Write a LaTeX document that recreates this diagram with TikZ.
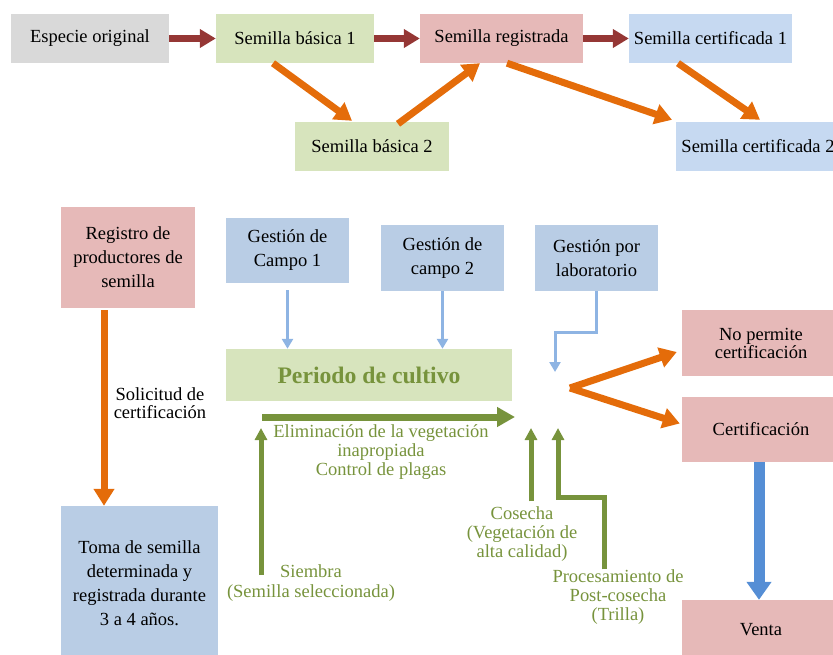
\documentclass[tikz,border=0pt]{standalone}
\usepackage{fontspec}
\setmainfont{Liberation Serif}
\usepackage{tikz}
\usetikzlibrary{arrows.meta}
\definecolor{gris}{HTML}{D9D9D9}
\definecolor{verdec}{HTML}{D7E4BD}
\definecolor{rosa}{HTML}{E6B9B8}
\definecolor{celc}{HTML}{C6D9F1}
\definecolor{azulc}{HTML}{B9CDE5}
\definecolor{rojo}{HTML}{953735}
\definecolor{naranja}{HTML}{E46C0A}
\definecolor{verdeosc}{HTML}{77933C}
\definecolor{celeste}{HTML}{8EB4E3}
\definecolor{azul}{HTML}{558ED5}
\newcommand{\txt}{\fontsize{18.5}{24}\selectfont}
\newcommand{\etq}{\fontsize{18.5}{19}\selectfont}

\begin{document}
\begin{tikzpicture}[x=1pt,y=-1pt,
  caja/.style={inner sep=0pt,align=center,font=\txt},
  etiq/.style={inner sep=0pt,align=center,font=\etq,text=verdeosc},
  flroja/.style={draw=rojo,line width=7pt,-{Triangle[width=18pt,length=16pt]}},
  flnar/.style={draw=naranja,line width=7pt,-{Triangle[width=20pt,length=17pt]}},
  flver/.style={draw=verdeosc,line width=7pt,-{Triangle[width=19pt,length=18pt]}},
  flverd/.style={draw=verdeosc,line width=5pt,-{Triangle[width=12pt,length=12pt]}},
  flcel/.style={draw=celeste,line width=3pt,-{Triangle[width=11pt,length=10pt]}},
  flazul/.style={draw=azul,line width=11pt,-{Triangle[width=24pt,length=18pt]}}]
\useasboundingbox (0,0) rectangle (833,655);
%\draw[help lines, color=gray!30, dashed] (0,0) grid[step=50] (833,655);
% fila de arriba
\node[caja,fill=gris,minimum width=158pt,minimum height=49pt] (espe) at (90,38.5) {Especie original};
\node[caja,fill=verdec,minimum width=158pt,minimum height=49pt] (bas1) at (295,38.5) {Semilla básica 1};
\node[caja,fill=rosa,minimum width=163pt,minimum height=49pt] (reg) at (501.5,38.5) {Semilla registrada};
\node[caja,fill=celc,minimum width=163pt,minimum height=49pt] (cert1) at (710.5,38.5) {Semilla certificada 1};
\node[caja,fill=verdec,minimum width=154pt,minimum height=49pt] (bas2) at (372,146.5) {Semilla básica 2};
\node[caja,fill=celc,minimum width=164pt,minimum height=49pt] (cert2) at (758,146.5) {Semilla certificada 2};
\draw[flroja] (espe) -- (bas1);
\draw[flroja] (bas1) -- (reg);
\draw[flroja] (reg) -- (cert1);
\draw[flnar] ([xshift=-22pt]bas1.south) -- ([xshift=-20pt,yshift=1pt]bas2.north);
\draw[flnar] ([xshift=26pt,yshift=-2pt]bas2.north) -- ([xshift=-21.5pt]reg.south);
\draw[flnar] ([xshift=5.5pt]reg.south) -- ([xshift=-86pt,yshift=2pt]cert2.north);
\draw[flnar] ([xshift=-32.5pt]cert1.south) -- ([xshift=2pt,yshift=2pt]cert2.north);
% parte de abajo
\node[caja,fill=rosa,minimum width=134pt,minimum height=101pt] (registro) at (128,257.5) {Registro de\\productores de\\semilla};
\node[caja,fill=azulc,minimum width=157pt,minimum height=154pt] (toma) at (139.5,583) {Toma de semilla\\determinada y\\registrada durante\\3 a 4 años.};
\node[caja,font=\fontsize{18.5}{18}\selectfont] (solic) at (160,403) {Solicitud de\\certificación};
\draw[flnar] ([xshift=-24pt,yshift=-2pt]registro.south) -- ([xshift=-35.5pt]toma.north);
\node[caja,fill=azulc,minimum width=123pt,minimum height=65pt] (campo1) at (287.5,250.5) {Gestión de\\Campo 1};
\node[caja,fill=azulc,minimum width=123pt,minimum height=66pt] (campo2) at (442.5,258) {Gestión de\\campo 2};
\node[caja,fill=azulc,minimum width=123pt,minimum height=66pt] (lab) at (596.5,258) {Gestión por\\laboratorio};
\node[caja,fill=verdec,minimum width=286pt,minimum height=52pt,text=verdeosc,font=\fontsize{23.7}{28}\selectfont\bfseries] (periodo) at (369,375) {Periodo de cultivo};
\coordinate (labbend) at (555,332);
\coordinate (labend) at (555,372);
\draw[flcel,shorten <=7pt] (campo1.south) -- (campo1.south |- periodo.north);
\draw[flcel] (campo2.south) -- (campo2.south |- periodo.north);
\draw[flcel] (lab.south) |- (labbend) -- (labend);
\coordinate (cultA) at (262,417);
\coordinate (cultB) at (515,417);
\draw[flver] (cultA) -- (cultB);
\node[etiq] (elim) at (381,452) {Eliminación de la vegetación\\inapropiada\\Control de plagas};
\node[etiq,font=\fontsize{18.5}{20}\selectfont] (siembra) at (311,583) {Siembra\\(Semilla seleccionada)};
\node[etiq] (cosecha) at (522,534) {Cosecha\\(Vegetación de\\alta calidad)};
\node[etiq] (proc) at (618,597) {Procesamiento de\\Post-cosecha\\(Trilla)};
\coordinate (siemA) at (261,575);
\coordinate (siemB) at (261,428);
\coordinate (cosB) at (531,428);
\coordinate (procbend) at (558,497);
\coordinate (procend) at (558,428);
\draw[flverd] (siemA) -- (siemB);
\draw[flverd] ([xshift=9pt,yshift=5pt]cosecha.north) -- (cosB);
\draw[flverd] ([xshift=-14pt]proc.north) |- (procbend) -- (procend);
\node[caja,fill=rosa,minimum width=158pt,minimum height=66pt,font=\fontsize{18.5}{18}\selectfont] (nope) at (761,343) {No permite\\certificación};
\node[caja,fill=rosa,minimum width=158pt,minimum height=65pt] (certif) at (761,429.5) {Certificación};
\node[caja,fill=rosa,minimum width=158pt,minimum height=60pt] (venta) at (761,630) {Venta};
\coordinate (hub) at (570,388);
\draw[flnar] (hub) -- ([xshift=-5pt,yshift=-9pt]nope.west);
\draw[flnar] (hub) -- ([xshift=-2pt,yshift=6pt]certif.west);
\draw[flazul] ([xshift=-2pt]certif.south) -- ([xshift=-2pt]venta.north);
\end{tikzpicture}
\end{document}
